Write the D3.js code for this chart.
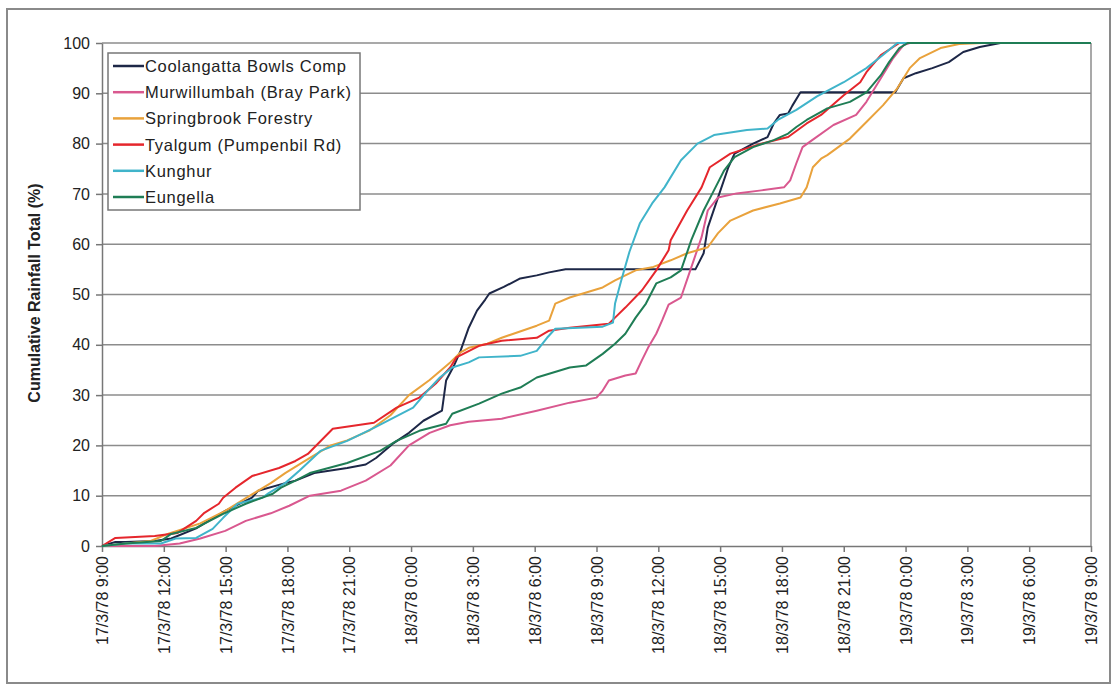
<!DOCTYPE html>
<html><head><meta charset="utf-8">
<script src="https://cdn.jsdelivr.net/npm/d3@7"></script>
<style>
html,body{margin:0;padding:0;background:#fff;}
text{font-family:"Liberation Sans",Arial,sans-serif;fill:#222;}
</style></head>
<body><svg id="c" width="1114" height="688"></svg>
<script>
// hours since 17/3/78 9:00 -> cumulative %
const xTickLabels = ["17/3/78 9:00","17/3/78 12:00","17/3/78 15:00","17/3/78 18:00","17/3/78 21:00","18/3/78 0:00","18/3/78 3:00","18/3/78 6:00","18/3/78 9:00","18/3/78 12:00","18/3/78 15:00","18/3/78 18:00","18/3/78 21:00","19/3/78 0:00","19/3/78 3:00","19/3/78 6:00","19/3/78 9:00"];
const xTickHours = [0,3,6,9,12,15,18,21,24,27,30,33,36,39,42,45,48];
const yTicks = [0,10,20,30,40,50,60,70,80,90,100];
const seriesNames = ["Coolangatta Bowls Comp","Murwillumbah (Bray Park)","Springbrook Forestry","Tyalgum (Pumpenbil Rd)","Kunghur","Eungella"];
const seriesColors = ["#1d2747","#d9588f","#e9a23c","#e5262c","#40b4ca","#1f7d55"];

const coolangatta = [[0,0],[0.65,0.8],[1.15,0.8],[2.56,1],[3.36,1.5],[4.57,3.5],[5.98,7],[7.28,9.6],[7.58,11],[8.89,12.5],[9.39,13],[10.3,14.5],[11.9,15.5],[12.8,16.2],[13.3,17.5],[14.1,20.3],[14.9,22.5],[15.6,24.9],[16.5,26.9],[16.7,32.9],[17.1,36],[17.4,38.8],[17.8,43.4],[18.2,46.8],[18.6,49],[18.8,50.2],[19.5,51.5],[20.3,53.2],[21.1,53.8],[21.7,54.4],[22.5,55],[28.8,55],[29.2,58.2],[29.4,63.3],[29.9,69.3],[30.4,75.3],[30.7,78],[31.6,80],[32.3,81.3],[32.6,84],[32.9,85.7],[33.3,86],[33.5,87.5],[33.9,90.2],[38.5,90.2],[38.9,93],[39.5,94],[40.3,95],[41.1,96.2],[41.8,98.2],[42.6,99.2],[43.6,100],[48,100]];
const murwillumbah = [[0,0],[2.56,0],[3.77,0.5],[4.77,1.5],[5.98,3],[6.98,5],[8.19,6.5],[9.09,8],[10.09,10],[11.6,11],[12.8,13],[14.0,16],[14.9,20],[15.9,22.5],[16.9,24],[17.8,24.7],[19.4,25.3],[21.1,26.9],[22.7,28.5],[24.0,29.5],[24.3,30.9],[24.6,32.9],[25.4,33.9],[25.9,34.3],[26.2,36.9],[26.5,39.4],[26.9,42.2],[27.2,45],[27.5,48],[28.1,49.4],[28.6,55.4],[29.1,61.4],[29.4,66.7],[29.9,69.3],[30.8,70.1],[32.0,70.7],[33.1,71.3],[33.4,72.7],[33.7,76.1],[34.0,79.3],[34.4,80.5],[35.5,83.7],[36.6,85.7],[37.1,88.3],[37.8,93],[38.4,97],[38.9,99.6],[39.2,100],[48,100]];
const springbrook = [[0,0],[1.15,0.5],[2.36,1],[3.26,2.5],[4.77,4.5],[5.98,7],[7.18,10],[8.19,12.5],[8.89,14.5],[10.09,17.5],[11.1,20],[11.9,21],[13.0,23],[14.0,26],[14.9,30],[15.9,33],[16.9,36.5],[17.4,38.5],[17.8,39.4],[18.7,40.2],[19.4,41.4],[21.1,43.8],[21.7,44.8],[22.0,48.2],[22.7,49.4],[24.3,51.4],[24.9,52.8],[25.9,54.8],[26.7,55.4],[27.6,56.8],[28.4,58.2],[29.4,59.4],[29.9,62.2],[30.5,64.7],[31.6,66.7],[32.9,68.1],[33.9,69.3],[34.2,71.3],[34.5,75.3],[34.9,77],[35.2,77.7],[36.3,81],[37.1,84.3],[37.9,87.6],[38.6,91],[39.2,95],[39.7,97],[40.7,99],[41.6,99.8],[42.7,100],[48,100]];
const tyalgum = [[0,0],[0.65,1.6],[2.56,2],[3.67,2.6],[4.57,5],[4.97,6.6],[5.67,8.4],[5.88,9.6],[6.48,11.6],[7.28,13.9],[8.59,15.5],[9.39,16.9],[9.99,18.3],[11.2,23.3],[13.2,24.5],[14.3,27.5],[15.4,29.5],[16.2,32.3],[16.9,35.5],[17.2,37.5],[18.3,39.8],[19.4,40.8],[21.1,41.4],[21.7,42.8],[22.7,43.4],[24.6,44.2],[24.9,45.4],[25.4,47.4],[26.2,50.8],[26.9,54.8],[27.5,58.8],[27.6,60.8],[28.4,66.7],[29.1,71.3],[29.5,75.3],[30.5,78],[32.0,80],[33.3,81.3],[34.2,84],[34.9,85.7],[36.0,89.6],[36.8,92.2],[37.1,94.2],[37.8,97.6],[38.4,99.2],[38.7,100],[48,100]];
const kunghur = [[0,0],[1.15,0.5],[2.86,0.5],[3.57,1.5],[4.57,1.6],[5.37,3.4],[5.88,5.6],[6.58,8.4],[7.78,9.6],[8.09,10.5],[8.89,12.5],[9.59,15],[10.6,18.9],[11.9,20.9],[13.2,23.5],[15.1,27.5],[15.8,30.9],[16.4,33.5],[17.0,35.5],[17.8,36.5],[18.3,37.5],[20.3,37.8],[21.1,38.8],[21.6,41.4],[22.0,43.2],[24.3,43.6],[24.8,44.4],[24.9,48.2],[25.2,52.8],[25.6,58.5],[26.1,64.1],[26.7,68.1],[27.3,71.3],[28.1,76.7],[28.9,80],[29.7,81.7],[31.3,82.7],[32.3,83],[32.8,84.7],[33.7,86.7],[34.7,89.4],[36.0,92.2],[37.1,95],[37.9,97.6],[38.6,100],[48,100]];
const eungella = [[0,0],[1.15,0.5],[2.86,1],[3.36,2.4],[4.57,3.6],[5.88,6.4],[6.98,8.4],[8.29,10.4],[8.69,11.6],[9.39,13],[10.09,14.5],[11.9,16.5],[13.5,18.9],[14.3,20.9],[15.4,22.9],[16.7,24.3],[17.0,26.3],[18.3,28.3],[19.4,30.3],[20.3,31.5],[21.1,33.5],[22.7,35.5],[23.5,35.9],[24.3,38.2],[24.9,40.2],[25.4,42.2],[25.9,45.4],[26.4,48.2],[26.9,52.2],[27.6,53.4],[28.1,54.8],[28.6,60.8],[29.2,66.7],[29.7,70.7],[30.2,74.7],[30.7,77.3],[31.6,79.3],[32.6,80.7],[33.3,82],[33.7,83.3],[34.2,84.7],[34.9,86.3],[35.2,87],[36.3,88.3],[37.1,90.2],[37.8,93.6],[38.2,96.2],[38.7,99],[39.1,100],[48,100]];
const seriesData = [coolangatta,murwillumbah,springbrook,tyalgum,kunghur,eungella];

const svg = d3.select("#c");
const L = 102, R = 1091, T = 43, B = 546;
const x = d3.scaleLinear().domain([0,48]).range([L,R]);
const y = d3.scaleLinear().domain([0,100]).range([B,T]);

// outer frame
svg.append("rect").attr("x",7).attr("y",9).attr("width",1103).attr("height",674)
  .attr("fill","#fff").attr("stroke","#8a8a8a").attr("stroke-width",2);

// gridlines
svg.append("g").selectAll("line").data(yTicks.filter(d=>d>0)).join("line")
  .attr("x1",L).attr("x2",R).attr("y1",d=>y(d)).attr("y2",d=>y(d))
  .attr("stroke","#8c8c8c").attr("stroke-width",1.5);
// right border
svg.append("line").attr("x1",R).attr("x2",R).attr("y1",T).attr("y2",B)
  .attr("stroke","#8c8c8c").attr("stroke-width",1.5);

// y axis
const yAxis = d3.axisLeft(y).tickValues(yTicks).tickSize(6).tickPadding(6).tickSizeOuter(0);
const gy = svg.append("g").attr("transform",`translate(${L},0)`).call(yAxis);
gy.selectAll("path,line").attr("stroke","#777").attr("stroke-width",1.5);
gy.selectAll("text").attr("font-size",16).attr("fill","#222").style("font-family","Liberation Sans, Arial, sans-serif");

// x axis
const xAxis = d3.axisBottom(x).tickValues(xTickHours).tickFormat((d,i)=>xTickLabels[i]).tickSize(6).tickSizeOuter(0);
const gx = svg.append("g").attr("transform",`translate(0,${B})`).call(xAxis);
gx.selectAll("path,line").attr("stroke","#777").attr("stroke-width",1.5);
gx.selectAll("text").attr("font-size",16).attr("fill","#222")
  .style("font-family","Liberation Sans, Arial, sans-serif")
  .attr("text-anchor","end").attr("transform","rotate(-90)")
  .attr("x",-10).attr("y",0).attr("dy","0.35em");

// y title
svg.append("text").attr("transform",`translate(40,293) rotate(-90)`)
  .attr("text-anchor","middle").attr("font-size",16).attr("font-weight","bold")
  .text("Cumulative Rainfall Total (%)");

// lines
const line = d3.line().x(d=>x(d[0])).y(d=>y(d[1]));
svg.append("g").selectAll("path").data(seriesData).join("path")
  .attr("d",line).attr("fill","none")
  .attr("stroke",(d,i)=>seriesColors[i]).attr("stroke-width",2).attr("stroke-linejoin","round");

// legend
const lg = svg.append("g");
lg.append("rect").attr("x",108).attr("y",53).attr("width",252).attr("height",157)
  .attr("fill","#fff").attr("stroke","#777").attr("stroke-width",1.5);
const rows = lg.selectAll("g.row").data(seriesNames).join("g").attr("class","row")
  .attr("transform",(d,i)=>`translate(113,${66+i*26.2})`);
rows.append("line").attr("x1",0).attr("x2",31).attr("y1",0).attr("y2",0)
  .attr("stroke",(d,i)=>seriesColors[i]).attr("stroke-width",2.5);
rows.append("text").attr("x",32).attr("dy","0.36em").attr("font-size",16.5)
  .attr("letter-spacing",0.7).text(d=>d);
</script></body></html>
